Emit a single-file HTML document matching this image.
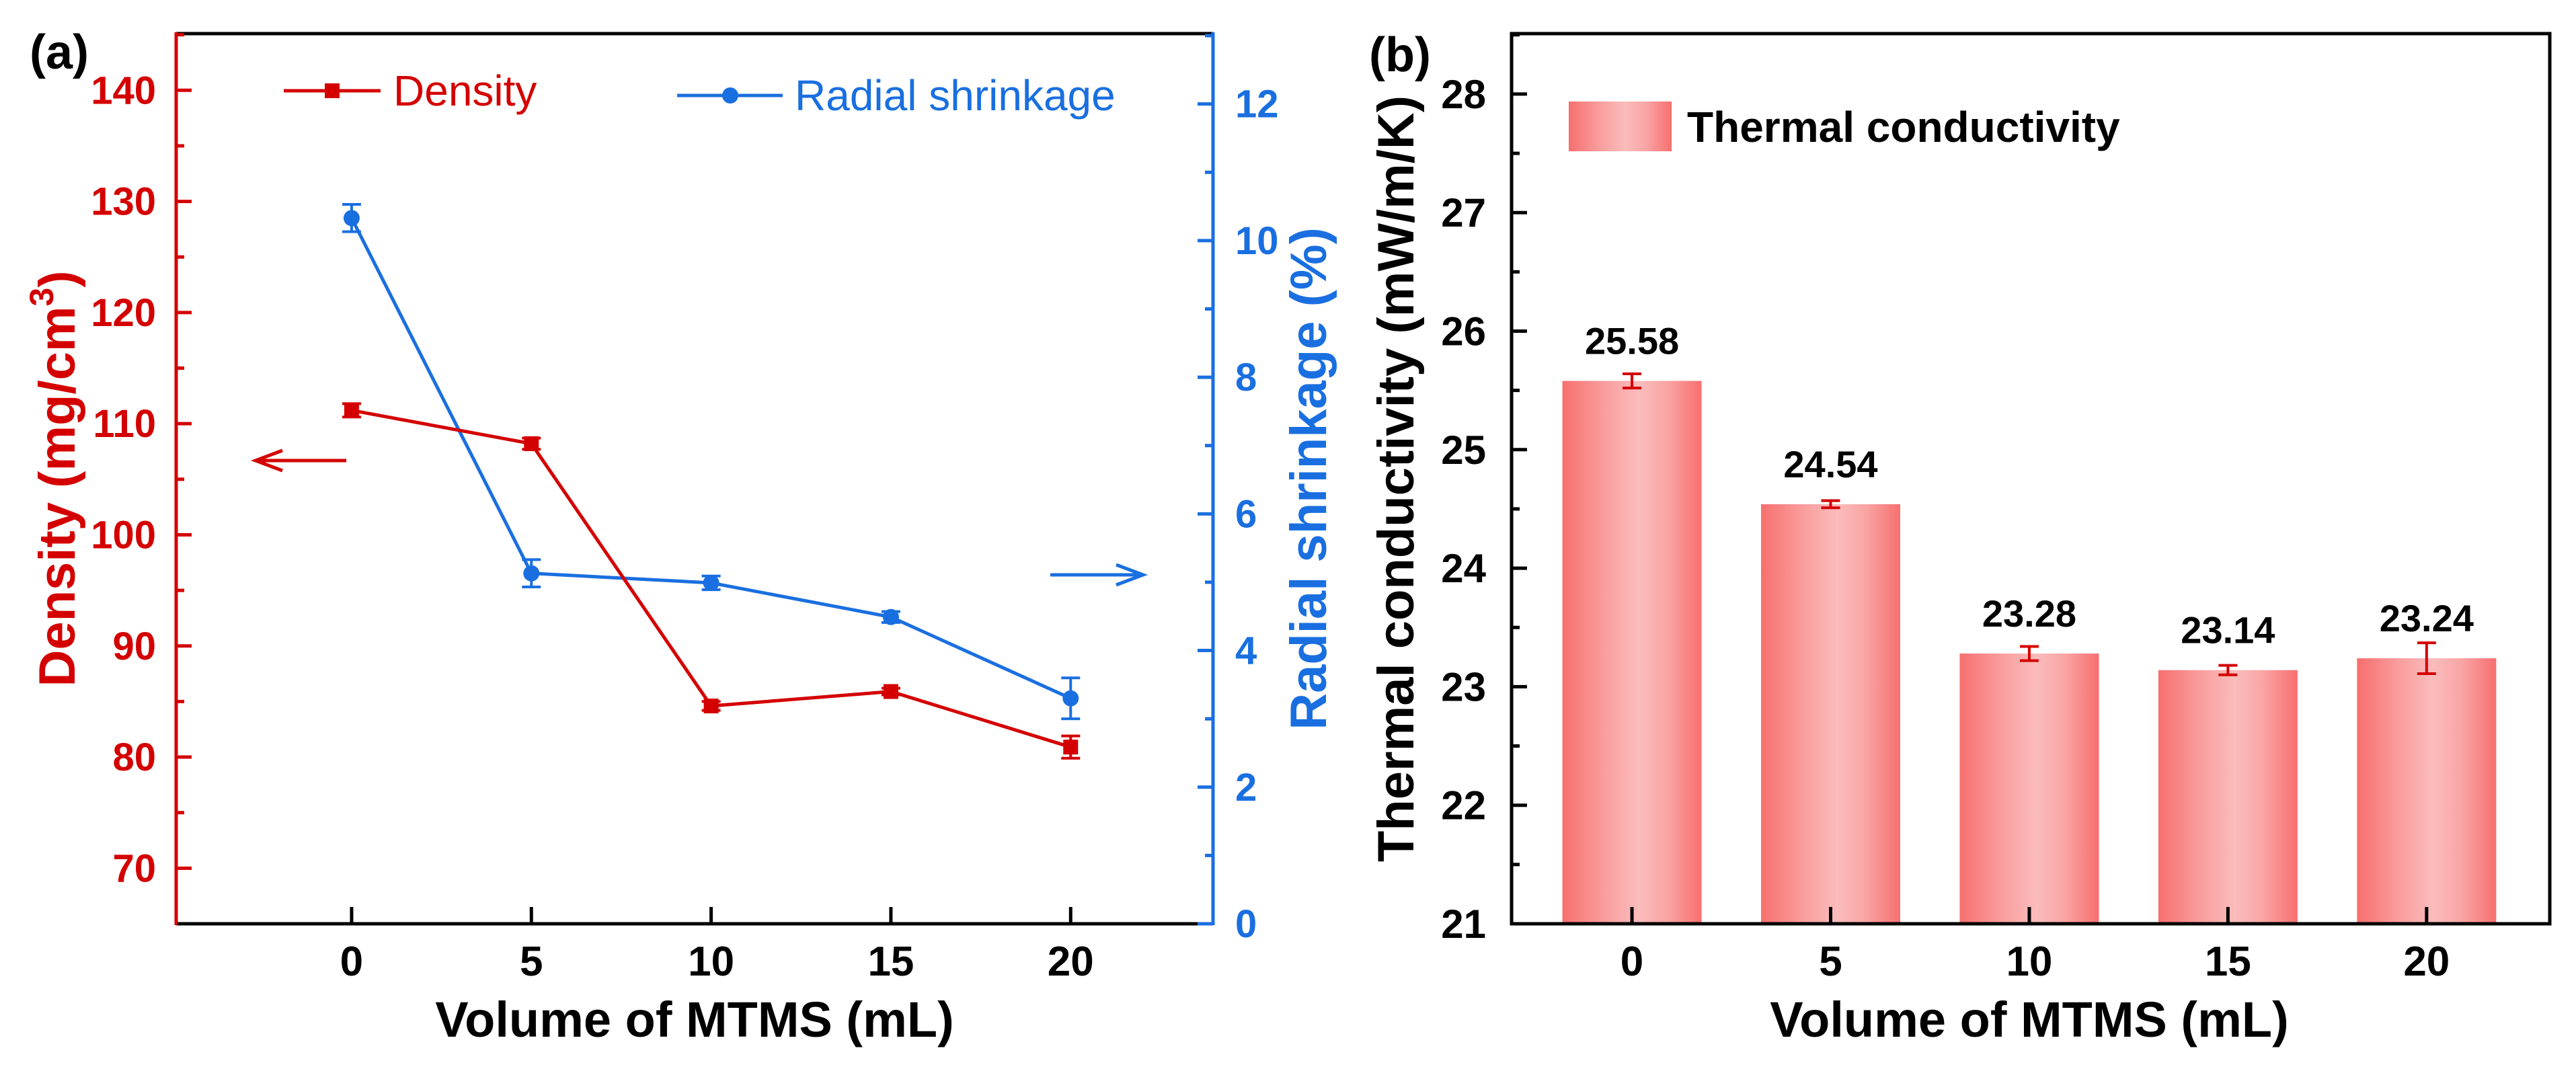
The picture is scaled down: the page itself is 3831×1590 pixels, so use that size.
<!DOCTYPE html>
<html><head><meta charset="utf-8">
<style>
html,body{margin:0;padding:0;background:#fff;}
svg{display:block;font-family:"Liberation Sans",Arial,sans-serif;}
</style></head>
<body>
<svg id="fig" width="3831" height="1590" viewBox="0 0 3831 1590" xmlns="http://www.w3.org/2000/svg">
<defs>
<linearGradient id="barGrad" x1="0" x2="1" y1="0" y2="0">
<stop offset="0" stop-color="#f76f6f"/>
<stop offset="0.3" stop-color="#fa9d9d"/>
<stop offset="0.55" stop-color="#fbbcbc"/>
<stop offset="0.75" stop-color="#faa5a5"/>
<stop offset="1" stop-color="#f76f6f"/>
</linearGradient>
</defs>
<g id="panelA"></g>
<g id="panelB"></g>
</svg>
<script>
// ---------- Panel (a) data ----------
const volumesA = [0, 5, 10, 15, 20];
const densityVals = [111.2, 108.2, 84.6, 85.9, 80.9];
const densityErr = [0.6, 0.5, 0.4, 0.3, 1.0];
const shrinkVals = [10.33, 5.13, 4.99, 4.49, 3.30];
const shrinkErr = [0.2, 0.2, 0.1, 0.08, 0.3];
const densityTicks = [70, 80, 90, 100, 110, 120, 130, 140];
const shrinkTicks = [0, 2, 4, 6, 8, 10, 12];
const xTicksA = [0, 5, 10, 15, 20];
// ---------- Panel (b) data ----------
const volumesB = [0, 5, 10, 15, 20];
const tcVals = [25.58, 24.54, 23.28, 23.14, 23.24];
const tcErr = [0.06, 0.03, 0.06, 0.04, 0.13];
const tcLabels = ["25.58", "24.54", "23.28", "23.14", "23.24"];
const tcTicks = [21, 22, 23, 24, 25, 26, 27, 28];
const xTicksB = [0, 5, 10, 15, 20];

const NS = "http://www.w3.org/2000/svg";
const RED = "#d40000", BLUE = "#1a6fe0", FONT = '"Liberation Sans", Arial, sans-serif';
function mk(parent, tag, attrs, text) {
  const e = document.createElementNS(NS, tag);
  for (const k in attrs) e.setAttribute(k, attrs[k]);
  if (text !== undefined) e.textContent = text;
  parent.appendChild(e);
  return e;
}
function lin(d0, d1, r0, r1) { return v => r0 + (v - d0) * (r1 - r0) / (d1 - d0); }

// ================= PANEL A =================
const A = document.getElementById('panelA');
const aL = 262, aR = 1804, aT = 50, aB = 1374;
const xA = lin(-4.88, 23.96, aL, aR);
const yD = lin(65, 145.1, aB, aT);
const yS = lin(0, 13.03, aB, aT);

let e;
e = mk(A, 'text', {x: 44, y: 102, 'font-size': 72, 'font-weight': 'bold', fill: '#000', 'font-family': FONT}, '(a)');



// frame
e = mk(A, 'line', {x1: aL, y1: aT, x2: aR, y2: aT, stroke: '#000', 'stroke-width': 5});


e = mk(A, 'line', {x1: aL, y1: aB, x2: aR, y2: aB, stroke: '#000', 'stroke-width': 5});


e = mk(A, 'line', {x1: aL, y1: aT - 2, x2: aL, y2: aB + 2, stroke: RED, 'stroke-width': 5});


e = mk(A, 'line', {x1: aR, y1: aT - 2, x2: aR, y2: aB + 2, stroke: BLUE, 'stroke-width': 5});



// left ticks
densityTicks.forEach(v => {
  const y = yD(v);
  let t = mk(A, 'line', {x1: aL, y1: y, x2: aL + 23, y2: y, stroke: RED, 'stroke-width': 5});
  
  
  t = mk(A, 'line', {x1: aL, y1: yD(v + 5), x2: aL + 12, y2: yD(v + 5), stroke: RED, 'stroke-width': 5});
  
  
  t = mk(A, 'text', {x: 232, y: y + 20, 'text-anchor': 'end', 'font-size': 58, 'font-weight': 'bold', fill: RED, 'font-family': FONT}, String(v));
  
  
});
// right ticks
shrinkTicks.forEach(v => {
  const y = yS(v);
  let t = mk(A, 'line', {x1: aR, y1: y, x2: aR - 23, y2: y, stroke: BLUE, 'stroke-width': 5});
  
  
  if (v < 13) {
    t = mk(A, 'line', {x1: aR, y1: yS(v + 1), x2: aR - 12, y2: yS(v + 1), stroke: BLUE, 'stroke-width': 5});
    
    
  }
  t = mk(A, 'text', {x: 1837, y: y + 20, 'text-anchor': 'start', 'font-size': 58, 'font-weight': 'bold', fill: BLUE, 'font-family': FONT}, String(v));
  
  
});
// x ticks
xTicksA.forEach(v => {
  const x = xA(v);
  let t = mk(A, 'line', {x1: x, y1: aB, x2: x, y2: aB - 25, stroke: '#000', 'stroke-width': 5});
  
  
  t = mk(A, 'text', {x: x, y: 1451, 'text-anchor': 'middle', 'font-size': 62, 'font-weight': 'bold', fill: '#000', 'font-family': FONT}, String(v));
  
  
});
e = mk(A, 'text', {x: 1033, y: 1542, 'text-anchor': 'middle', 'font-size': 74, 'font-weight': 'bold', fill: '#000', 'font-family': FONT}, 'Volume of MTMS (mL)');



// y titles
e = mk(A, 'text', {x: 0, y: 0, transform: 'translate(111,712) rotate(-90)', 'text-anchor': 'middle', 'font-size': 76, 'font-weight': 'bold', fill: RED, 'font-family': FONT});


mk(e, 'tspan', {}, 'Density (mg/cm');
mk(e, 'tspan', {'font-size': 50, dy: -32}, '3');
mk(e, 'tspan', {dy: 32}, ')');
e = mk(A, 'text', {x: 0, y: 0, transform: 'translate(1972,712) rotate(-90)', 'text-anchor': 'middle', 'font-size': 76, 'font-weight': 'bold', fill: BLUE, 'font-family': FONT}, 'Radial shrinkage (%)');



// arrows
e = mk(A, 'path', {d: 'M515 685 L380 685 M420 670 L380 685 L420 700', stroke: RED, 'stroke-width': 5, fill: 'none'});


e = mk(A, 'path', {d: 'M1562 855 L1700 855 M1660 840 L1700 855 L1660 870', stroke: BLUE, 'stroke-width': 5, fill: 'none'});



// shrinkage series
let pts = volumesA.map((v, i) => xA(v) + ',' + yS(shrinkVals[i])).join(' ');
e = mk(A, 'polyline', {points: pts, stroke: BLUE, 'stroke-width': 5, fill: 'none'});


// density series
pts = volumesA.map((v, i) => xA(v) + ',' + yD(densityVals[i])).join(' ');
e = mk(A, 'polyline', {points: pts, stroke: RED, 'stroke-width': 5, fill: 'none'});



volumesA.forEach((v, i) => {
  const x = xA(v);
  // shrinkage error + marker
  const y1 = yS(shrinkVals[i] + shrinkErr[i]), y2 = yS(shrinkVals[i] - shrinkErr[i]);
  let g = mk(A, 'path', {d: `M${x} ${y1} L${x} ${y2} M${x-14} ${y1} L${x+14} ${y1} M${x-14} ${y2} L${x+14} ${y2}`, stroke: BLUE, 'stroke-width': 4, fill: 'none'});
  
  
  g = mk(A, 'circle', {cx: x, cy: yS(shrinkVals[i]), r: 12, fill: BLUE});
  
  
  // density
  const d1 = yD(densityVals[i] + densityErr[i]), d2 = yD(densityVals[i] - densityErr[i]);
  g = mk(A, 'path', {d: `M${x} ${d1} L${x} ${d2} M${x-14} ${d1} L${x+14} ${d1} M${x-14} ${d2} L${x+14} ${d2}`, stroke: RED, 'stroke-width': 4, fill: 'none'});
  
  
  const yy = yD(densityVals[i]);
  g = mk(A, 'rect', {x: x - 11, y: yy - 11, width: 22, height: 22, fill: RED});
  
  
});

// legend
e = mk(A, 'g', {});


mk(e, 'line', {x1: 422, y1: 135, x2: 566, y2: 135, stroke: RED, 'stroke-width': 5});
mk(e, 'rect', {x: 483, y: 124, width: 22, height: 22, fill: RED});
mk(e, 'text', {x: 585, y: 157, 'font-size': 64, fill: RED, 'font-family': FONT}, 'Density');
e = mk(A, 'g', {});


mk(e, 'line', {x1: 1007, y1: 142, x2: 1164, y2: 142, stroke: BLUE, 'stroke-width': 5});
mk(e, 'circle', {cx: 1086, cy: 142, r: 12, fill: BLUE});
mk(e, 'text', {x: 1182, y: 164, 'font-size': 64, fill: BLUE, 'font-family': FONT}, 'Radial shrinkage');

// ================= PANEL B =================
const B = document.getElementById('panelB');
const bL = 2248, bR = 3792, bT = 50, bB = 1374;
const xB = lin(-3.03, 23.1, bL, bR);
const yB = lin(21, 28.51, bB, bT);
const barW = 207;

e = mk(B, 'text', {x: 2036, y: 106, 'font-size': 72, 'font-weight': 'bold', fill: '#000', 'font-family': FONT}, '(b)');



volumesB.forEach((v, i) => {
  const x = xB(v), y = yB(tcVals[i]);
  let g = mk(B, 'rect', {x: x - barW / 2, y: y, width: barW, height: bB - y, fill: 'url(#barGrad)'});
  
  
  const e1 = yB(tcVals[i] + tcErr[i]), e2 = yB(tcVals[i] - tcErr[i]);
  g = mk(B, 'path', {d: `M${x} ${e1} L${x} ${e2} M${x-14} ${e1} L${x+14} ${e1} M${x-14} ${e2} L${x+14} ${e2}`, stroke: RED, 'stroke-width': 4, fill: 'none'});
  
  
  g = mk(B, 'text', {x: x, y: y - 40, 'text-anchor': 'middle', 'font-size': 56, 'font-weight': 'bold', fill: '#000', 'font-family': FONT}, tcLabels[i]);
  
  
});

e = mk(B, 'rect', {x: bL, y: bT, width: bR - bL, height: bB - bT, fill: 'none', stroke: '#000', 'stroke-width': 5});



tcTicks.forEach(v => {
  const y = yB(v);
  let t = mk(B, 'line', {x1: bL, y1: y, x2: bL + 23, y2: y, stroke: '#000', 'stroke-width': 5});
  
  
  if (v < 28.5) {
    t = mk(B, 'line', {x1: bL, y1: yB(v + 0.5), x2: bL + 12, y2: yB(v + 0.5), stroke: '#000', 'stroke-width': 5});
    
    
  }
  t = mk(B, 'text', {x: 2210, y: y + 21, 'text-anchor': 'end', 'font-size': 60, 'font-weight': 'bold', fill: '#000', 'font-family': FONT}, String(v));
  
  
});
xTicksB.forEach(v => {
  const x = xB(v);
  let t = mk(B, 'line', {x1: x, y1: bB, x2: x, y2: bB - 25, stroke: '#000', 'stroke-width': 5});
  
  
  t = mk(B, 'text', {x: x, y: 1451, 'text-anchor': 'middle', 'font-size': 62, 'font-weight': 'bold', fill: '#000', 'font-family': FONT}, String(v));
  
  
});
e = mk(B, 'text', {x: 3018, y: 1542, 'text-anchor': 'middle', 'font-size': 74, 'font-weight': 'bold', fill: '#000', 'font-family': FONT}, 'Volume of MTMS (mL)');


e = mk(B, 'text', {x: 0, y: 0, transform: 'translate(2102,712) rotate(-90)', 'text-anchor': 'middle', 'font-size': 76, 'font-weight': 'bold', fill: '#000', 'font-family': FONT}, 'Thermal conductivity (mW/m/K)');



e = mk(B, 'g', {});


mk(e, 'rect', {x: 2333, y: 151, width: 153, height: 74, fill: 'url(#barGrad)'});
mk(e, 'text', {x: 2509, y: 211, 'font-size': 64, 'font-weight': 'bold', fill: '#000', 'font-family': FONT}, 'Thermal conductivity');
</script>
</body></html>
